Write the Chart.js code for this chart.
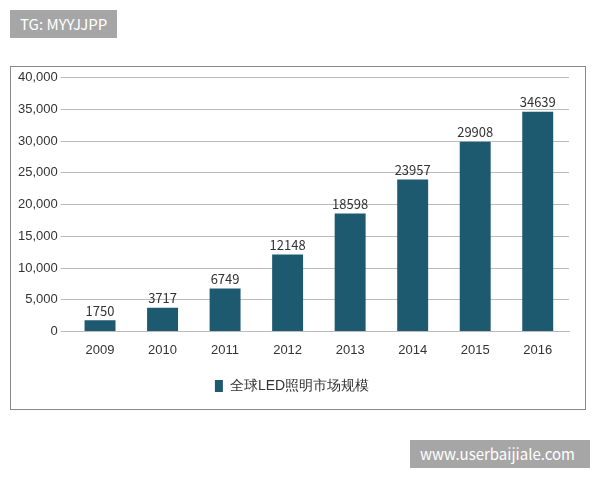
<!DOCTYPE html>
<html><head><meta charset="utf-8">
<script src="https://cdn.jsdelivr.net/npm/chart.js"></script>
<style>
body{margin:0;background:#fff;font-family:"Noto Sans CJK SC",Arial,sans-serif;}
#wrap{position:absolute;left:10px;top:66px;width:576px;height:344px;border:1px solid #888;box-sizing:border-box;}
.tag{position:absolute;background:#a6a6a6;color:#fff;font-size:15px;padding:0 10px;line-height:28px;}
</style></head><body>
<div class="tag" style="left:10px;top:10px;">TG: MYYJJPP</div>
<div id="wrap"><canvas id="c"></canvas></div>
<div class="tag" style="left:410px;top:440px;width:160px;">www.userbaijiale.com</div>
<script>
const years = ["2009","2010","2011","2012","2013","2014","2015","2016"];
const marketSize = [1750,3717,6749,12148,18598,23957,29908,34639];
const seriesName = "全球LED照明市场规模";

const valueLabels = {
  id: "valueLabels",
  afterDatasetsDraw(chart) {
    const ctx = chart.ctx;
    ctx.save();
    ctx.font = "13px 'Noto Sans CJK SC', Arial";
    ctx.fillStyle = "#333";
    ctx.textAlign = "center";
    ctx.textBaseline = "bottom";
    chart.getDatasetMeta(0).data.forEach((bar, i) => {
      ctx.fillText(marketSize[i], bar.x, bar.y - 3);
    });
    ctx.restore();
  }
};

new Chart(document.getElementById("c"), {
  type: "bar",
  data: {
    labels: years,
    datasets: [{
      label: seriesName,
      data: marketSize,
      backgroundColor: "#1d5a70",
      categoryPercentage: 0.9,
      barPercentage: 0.55
    }]
  },
  options: {
    responsive: true,
    maintainAspectRatio: false,
    animation: false,
    layout: { padding: { left: 4, right: 16, top: 8, bottom: 6 } },
    scales: {
      x: {
        grid: { display: false },
        border: { color: "#bbb" },
        ticks: { color: "#333", font: { size: 13 } }
      },
      y: {
        min: 0, max: 40000,
        ticks: { stepSize: 5000, color: "#333", font: { size: 13 } },
        grid: { color: "#bbb" },
        border: { display: false }
      }
    },
    plugins: {
      tooltip: { enabled: false },
      legend: {
        position: "bottom",
        labels: { color: "#333", font: { size: 14 }, boxWidth: 8, boxHeight: 12, padding: 18 }
      }
    }
  },
  plugins: [valueLabels]
});
</script>
</body></html>
